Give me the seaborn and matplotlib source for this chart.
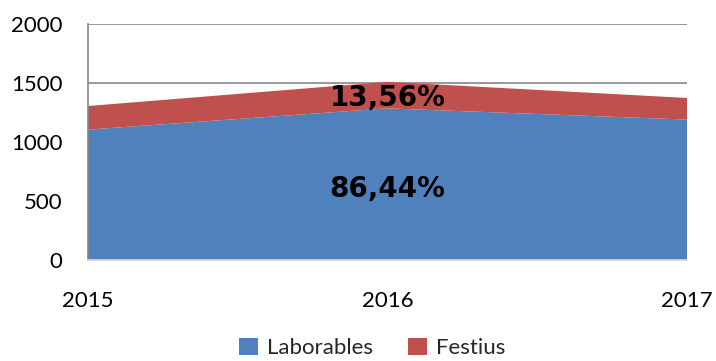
import matplotlib
matplotlib.use("Agg")
import matplotlib.pyplot as plt
from matplotlib.patches import Patch
import seaborn as sns
import pandas as pd

# Yearly totals by day type
years = [2015, 2016, 2017]
laborables = [1105, 1285, 1190]
festius = [200, 225, 183]
series_names = ["Laborables", "Festius"]
share_labels = ["86,44%", "13,56%"]
y_ticks = [0, 500, 1000, 1500, 2000]

df = pd.DataFrame({"any": years, "Laborables": laborables, "Festius": festius})

sns.set_theme(style="white")
plt.rcParams["font.family"] = ["Lato", "DejaVu Sans"]

colors = ["#4F81BD", "#C0504D"]
grid_color = "#868686"

fig = plt.figure(figsize=(7.16, 3.61), dpi=100)
ax = fig.add_axes([88 / 716, 1 - 260 / 361, (687 - 88) / 716, (260 - 24) / 361])

ax.stackplot(df["any"], df["Laborables"], df["Festius"], colors=colors,
             labels=series_names, edgecolor="none", zorder=2)

ax.set_xlim(years[0], years[-1])
ax.set_ylim(y_ticks[0], y_ticks[-1])
ax.set_xticks(years)
ax.set_xticklabels([str(y) for y in years])
ax.set_yticks(y_ticks)
ax.yaxis.grid(True, color=grid_color, linewidth=1.2, zorder=1)
ax.set_axisbelow(True)

for side in ["top", "right"]:
    ax.spines[side].set_visible(False)
ax.spines["left"].set_color(grid_color)
ax.spines["left"].set_linewidth(1.2)
ax.spines["bottom"].set_color("#D9D9D9")
ax.spines["bottom"].set_linewidth(1.2)
ax.tick_params(axis="both", which="both", labelsize=16, colors=grid_color,
               labelcolor="black", length=7, width=1.2, direction="out")
ax.tick_params(axis="x", pad=15)
ax.tick_params(axis="y", pad=11.5)

# Share of each day type, centred over the middle year
mid = years[1]
label_font = dict(family="DejaVu Sans", fontsize=20, fontweight="bold", color="black")
ax.text(mid, 536, share_labels[0], ha="center", va="baseline", zorder=3, **label_font)
ax.text(mid, 1305, share_labels[1], ha="center", va="baseline", zorder=3, **label_font)

handles = [Patch(facecolor=c, edgecolor="none") for c in colors]
fig.legend(handles, series_names, loc="center", bbox_to_anchor=(372 / 716, 1 - 348 / 361),
           ncol=2, frameon=False, fontsize=16, handlelength=0.85, handleheight=0.85,
           handletextpad=0.4, columnspacing=1.6, borderpad=0.2)

fig.savefig("out.png", dpi=100)
